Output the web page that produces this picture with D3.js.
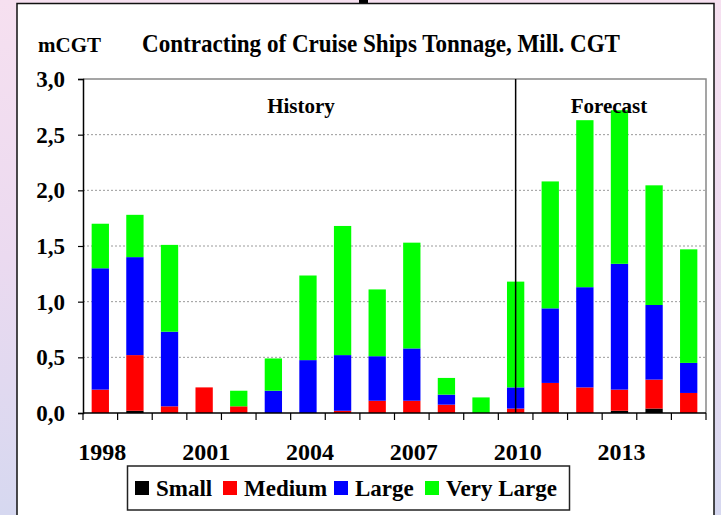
<!DOCTYPE html>
<html>
<head>
<meta charset="utf-8">
<script src="https://cdn.jsdelivr.net/npm/d3@7"></script>
<style>
  html, body { margin: 0; padding: 0; }
  body {
    width: 721px; height: 515px; overflow: hidden;
    background: linear-gradient(to bottom, #f6e0f0 0%, #ebdaf0 50%, #d6d8f0 100%);
  }
  svg { display: block; }
  text { font-family: "Liberation Serif", "Times New Roman", serif; font-weight: bold; fill: #000; }
</style>
</head>
<body>
<div id="chart"></div>
<script>
// 1. The data (mill. CGT)
const years = ["1998", "1999", "2000", "2001", "2002", "2003", "2004", "2005", "2006",
  "2007", "2008", "2009", "2010", "2011", "2012", "2013", "2014", "2015"];
const small     = [0, 0.02, 0, 0, 0, 0, 0, 0, 0, 0, 0, 0, 0, 0, 0, 0.02, 0.04, 0];
const medium    = [0.21, 0.50, 0.06, 0.23, 0.06, 0, 0, 0.02, 0.11, 0.11, 0.075, 0, 0.04, 0.27, 0.23, 0.19, 0.26, 0.18];
const large     = [1.09, 0.88, 0.67, 0, 0, 0.20, 0.475, 0.50, 0.40, 0.47, 0.09, 0, 0.19, 0.67, 0.90, 1.13, 0.67, 0.27];
const veryLarge = [0.40, 0.38, 0.78, 0, 0.14, 0.29, 0.76, 1.16, 0.60, 0.95, 0.15, 0.14, 0.95, 1.14, 1.50, 1.38, 1.075, 1.02];

const seriesNames = ["Small", "Medium", "Large", "Very Large"];
const yTicks = [0, 0.5, 1, 1.5, 2, 2.5, 3];
const xLabels = ["1998", "2001", "2004", "2007", "2010", "2013"];
const splitYear = "2010";

// 2. The colours
const colors = ["#000000", "#ff0000", "#0000ff", "#00ff00"];

// build rows for d3.stack
const rows = years.map((yr, i) => ({
  year: yr,
  "Small": small[i],
  "Medium": medium[i],
  "Large": large[i],
  "Very Large": veryLarge[i]
}));

const WIDTH = 721;
const HEIGHT = 515;
const plotLeft = 83, plotRight = 706, plotTop = 79, plotBottom = 413;

const svg = d3.select("#chart")
  .append("svg")
  .attr("width", WIDTH)
  .attr("height", HEIGHT);

// black mark peeking in at the top
svg.append("rect").attr("x", 359).attr("y", 0).attr("width", 9).attr("height", 4).attr("fill", "#000");

// white panel
svg.append("rect")
  .attr("x", 17).attr("y", 3.5)
  .attr("width", 697).attr("height", 530)
  .attr("fill", "#fff")
  .attr("stroke", "#111")
  .attr("stroke-width", 1.5);

// scales
const x = d3.scaleBand()
  .domain(years)
  .range([plotLeft, plotRight])
  .paddingInner(0.5)
  .paddingOuter(0.25);

const y = d3.scaleLinear()
  .domain([0, 3])
  .range([plotBottom, plotTop]);

const color = d3.scaleOrdinal().domain(seriesNames).range(colors);

// gridlines
svg.append("g")
  .selectAll("line")
  .data(yTicks.filter(d => d > 0 && d < 3))
  .enter()
  .append("line")
  .attr("x1", plotLeft).attr("x2", plotRight)
  .attr("y1", d => y(d)).attr("y2", d => y(d))
  .attr("stroke", "#9a9a9a")
  .attr("stroke-width", 1)
  .attr("stroke-dasharray", "2,2");

// plot frame top and right (gray)
svg.append("path")
  .attr("d", `M${plotLeft},${y(3)}H${plotRight}V${plotBottom}`)
  .attr("fill", "none")
  .attr("stroke", "#888")
  .attr("stroke-width", 1.5);

// stacked bars
const stack = d3.stack().keys(seriesNames);
const layers = svg.append("g")
  .selectAll("g")
  .data(stack(rows))
  .enter()
  .append("g")
  .attr("fill", d => color(d.key));

layers.selectAll("rect")
  .data(d => d)
  .enter()
  .append("rect")
  .attr("x", d => x(d.data.year))
  .attr("width", x.bandwidth())
  .attr("y", d => y(d[1]))
  .attr("height", d => y(d[0]) - y(d[1]));

// history / forecast split line
const splitX = x(splitYear) + x.bandwidth() / 2;
svg.append("line")
  .attr("x1", splitX).attr("x2", splitX)
  .attr("y1", y(3)).attr("y2", y(0))
  .attr("stroke", "#000")
  .attr("stroke-width", 1.5);

// y axis
const yAxis = d3.axisLeft(y)
  .tickValues(yTicks)
  .tickSize(5)
  .tickPadding(13)
  .tickFormat(d => d3.format(".1f")(d).replace(".", ","));

const yG = svg.append("g")
  .attr("transform", `translate(${plotLeft},0)`)
  .call(yAxis);
yG.select(".domain").attr("stroke", "#000").attr("stroke-width", 1.5);
yG.selectAll(".tick line").attr("stroke", "#000").attr("stroke-width", 1.2);
yG.selectAll(".tick text")
  .attr("font-family", "'Liberation Serif', serif")
  .attr("font-weight", "bold")
  .attr("font-size", 23)
  .attr("fill", "#000");

// x axis line and ticks at band edges
svg.append("line")
  .attr("x1", plotLeft).attr("x2", plotRight)
  .attr("y1", plotBottom).attr("y2", plotBottom)
  .attr("stroke", "#000")
  .attr("stroke-width", 1.5);

const edges = years.map(yr => x(yr) + x.bandwidth() / 2 - x.step() / 2).concat([plotRight]);
svg.append("g")
  .selectAll("line")
  .data(edges)
  .enter()
  .append("line")
  .attr("x1", d => d).attr("x2", d => d)
  .attr("y1", plotBottom).attr("y2", plotBottom + 7)
  .attr("stroke", "#000")
  .attr("stroke-width", 1.2);

// x labels every third year
svg.append("g")
  .selectAll("text")
  .data(xLabels)
  .enter()
  .append("text")
  .attr("x", d => x(d) + x.bandwidth() / 2 + 2)
  .attr("y", 460)
  .attr("text-anchor", "middle")
  .attr("font-size", 24)
  .text(d => d);

// titles
svg.append("text")
  .attr("x", 38).attr("y", 52)
  .attr("font-size", 21)
  .text("mCGT");

svg.append("text")
  .attr("x", 142).attr("y", 52)
  .attr("font-size", 25)
  .attr("textLength", 478)
  .attr("lengthAdjust", "spacingAndGlyphs")
  .text("Contracting of Cruise Ships Tonnage, Mill. CGT");

svg.append("text")
  .attr("x", 301).attr("y", 113)
  .attr("text-anchor", "middle")
  .attr("font-size", 21)
  .text("History");

svg.append("text")
  .attr("x", 609).attr("y", 113)
  .attr("text-anchor", "middle")
  .attr("font-size", 21)
  .text("Forecast");

// legend
const legend = svg.append("g");
legend.append("rect")
  .attr("x", 127.5).attr("y", 466)
  .attr("width", 442).attr("height", 44)
  .attr("fill", "#fff")
  .attr("stroke", "#222")
  .attr("stroke-width", 1.5);

const legendX = [135, 223, 334, 425];
const items = legend.selectAll(".item")
  .data(seriesNames)
  .enter()
  .append("g")
  .attr("class", "item")
  .attr("transform", (d, i) => `translate(${legendX[i]},0)`);

items.append("rect")
  .attr("x", 0).attr("y", 481)
  .attr("width", 14).attr("height", 14)
  .attr("fill", d => color(d));

items.append("text")
  .attr("x", 21).attr("y", 496)
  .attr("font-size", 23)
  .text(d => d);
</script>
</body>
</html>
